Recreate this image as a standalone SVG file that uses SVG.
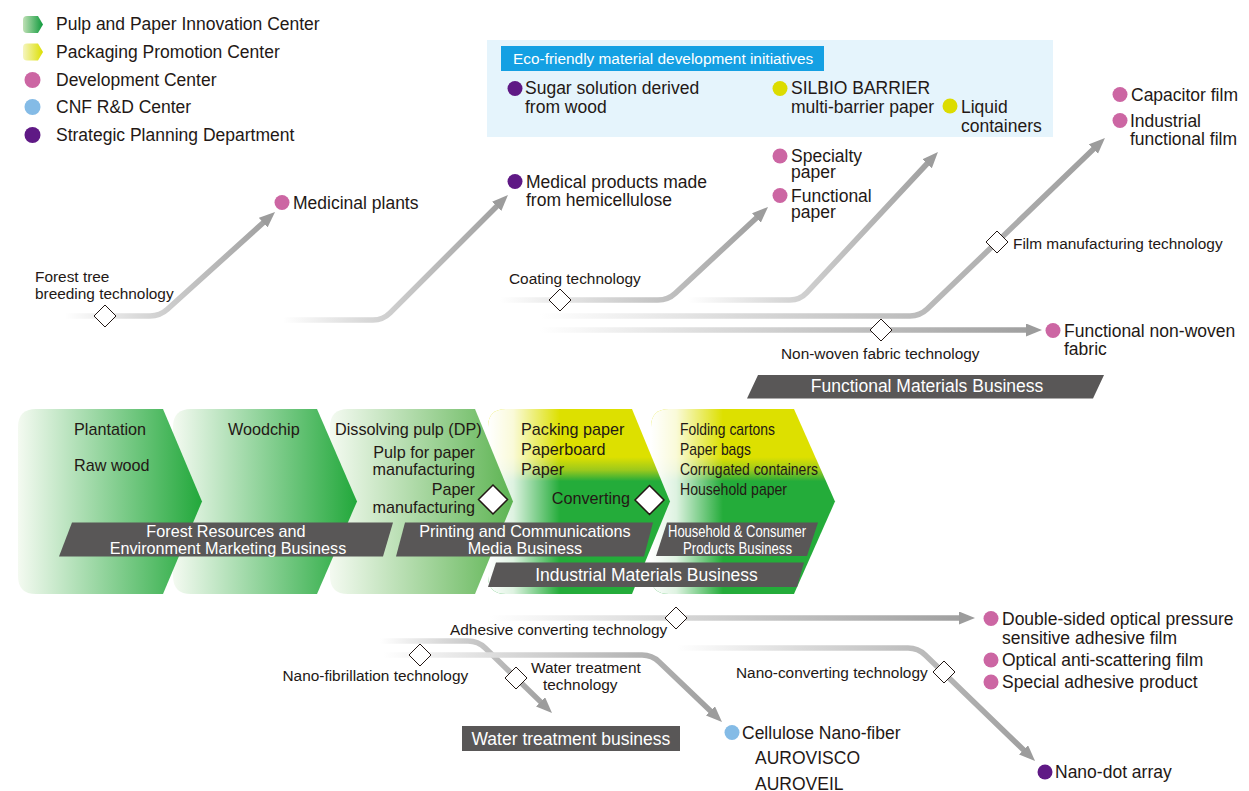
<svg xmlns="http://www.w3.org/2000/svg" width="1249" height="791" viewBox="0 0 1249 791">
<style>
.t{font-family:'Liberation Sans',Arial,Helvetica,sans-serif;fill:#231815}
.m{font-size:17.5px}
.c{font-size:16.2px}
.s{font-size:15.4px}
.w{fill:#ffffff}
.dia{fill:#ffffff;stroke:#231815;stroke-width:1}
.bdia{fill:#ffffff;stroke:#231815;stroke-width:1.5}
.ban{fill:#595757}
.ln{fill:none;stroke-width:5.5}
.pk{fill:#cc66a3}
.pu{fill:#5f1985}
.bl{fill:#84bbe6}
.ye{fill:#dcdc00}
</style>
<defs>
<linearGradient id="gLegG" x1="0" y1="0" x2="1" y2="0"><stop offset="0" stop-color="#bfe0b5"/><stop offset="1" stop-color="#0e9a3c"/></linearGradient>
<linearGradient id="gLegY" x1="0" y1="0" x2="1" y2="0"><stop offset="0" stop-color="#f5f5c0"/><stop offset="1" stop-color="#dcdf00"/></linearGradient>
<linearGradient id="gCh" x1="0" y1="0" x2="1" y2="0"><stop offset="0" stop-color="#f4faf1"/><stop offset="1" stop-color="#22a83b"/></linearGradient>
<linearGradient id="gCh3" x1="0" y1="0" x2="1" y2="0"><stop offset="0" stop-color="#f4faf1"/><stop offset="1" stop-color="#5db452"/></linearGradient>
<linearGradient id="gYG" x1="0" y1="0" x2="0" y2="1"><stop offset="0" stop-color="#dde000"/><stop offset="0.26" stop-color="#dde000"/><stop offset="0.33" stop-color="#9cc91c"/><stop offset="0.39" stop-color="#24ac3a"/><stop offset="1" stop-color="#24ac3a"/></linearGradient>
<linearGradient id="gW4" gradientUnits="userSpaceOnUse" x1="488" y1="0" x2="560" y2="0"><stop offset="0" stop-color="#fff" stop-opacity="1"/><stop offset="0.35" stop-color="#fff" stop-opacity="0.85"/><stop offset="1" stop-color="#fff" stop-opacity="0"/></linearGradient>
<linearGradient id="gW5" gradientUnits="userSpaceOnUse" x1="651" y1="0" x2="723" y2="0"><stop offset="0" stop-color="#fff" stop-opacity="1"/><stop offset="0.35" stop-color="#fff" stop-opacity="0.85"/><stop offset="1" stop-color="#fff" stop-opacity="0"/></linearGradient>
<linearGradient id="g1" gradientUnits="userSpaceOnUse" x1="65" y1="0" x2="275" y2="0"><stop offset="0" stop-color="#fff"/><stop offset="0.35" stop-color="#dadada"/><stop offset="1" stop-color="#9d9d9d"/></linearGradient>
<linearGradient id="g2" gradientUnits="userSpaceOnUse" x1="283" y1="0" x2="508" y2="0"><stop offset="0" stop-color="#fff"/><stop offset="0.35" stop-color="#dadada"/><stop offset="1" stop-color="#9d9d9d"/></linearGradient>
<linearGradient id="g3" gradientUnits="userSpaceOnUse" x1="500" y1="0" x2="768" y2="0"><stop offset="0" stop-color="#fff"/><stop offset="0.35" stop-color="#dadada"/><stop offset="1" stop-color="#9d9d9d"/></linearGradient>
<linearGradient id="g4" gradientUnits="userSpaceOnUse" x1="688" y1="0" x2="938" y2="0"><stop offset="0" stop-color="#fff"/><stop offset="0.35" stop-color="#dadada"/><stop offset="1" stop-color="#9d9d9d"/></linearGradient>
<linearGradient id="g5" gradientUnits="userSpaceOnUse" x1="540" y1="0" x2="1105" y2="0"><stop offset="0" stop-color="#fff"/><stop offset="0.35" stop-color="#dadada"/><stop offset="1" stop-color="#9d9d9d"/></linearGradient>
<linearGradient id="g6" gradientUnits="userSpaceOnUse" x1="540" y1="0" x2="1042" y2="0"><stop offset="0" stop-color="#fff"/><stop offset="0.35" stop-color="#dadada"/><stop offset="1" stop-color="#9d9d9d"/></linearGradient>
<linearGradient id="g7" gradientUnits="userSpaceOnUse" x1="490" y1="0" x2="975" y2="0"><stop offset="0" stop-color="#fff"/><stop offset="0.35" stop-color="#dadada"/><stop offset="1" stop-color="#9d9d9d"/></linearGradient>
<linearGradient id="g8" gradientUnits="userSpaceOnUse" x1="380" y1="0" x2="552" y2="0"><stop offset="0" stop-color="#fff"/><stop offset="0.35" stop-color="#dadada"/><stop offset="1" stop-color="#9d9d9d"/></linearGradient>
<linearGradient id="g9" gradientUnits="userSpaceOnUse" x1="383" y1="0" x2="722" y2="0"><stop offset="0" stop-color="#fff"/><stop offset="0.35" stop-color="#dadada"/><stop offset="1" stop-color="#9d9d9d"/></linearGradient>
<linearGradient id="g10" gradientUnits="userSpaceOnUse" x1="677" y1="0" x2="1035" y2="0"><stop offset="0" stop-color="#fff"/><stop offset="0.35" stop-color="#dadada"/><stop offset="1" stop-color="#9d9d9d"/></linearGradient>
<marker id="ah" markerUnits="userSpaceOnUse" markerWidth="17" markerHeight="14" refX="3" refY="6.5" orient="auto"><path d="M0,0 L16,6.5 L0,13 Z" fill="#9c9c9c"/></marker>
</defs>

<g id="legend">
<path d="M27,16 H38 L43,24.5 L38,33 H27 Q23,33 23,29 V20 Q23,16 27,16 Z" fill="url(#gLegG)"/>
<text class="t m" x="56" y="30">Pulp and Paper Innovation Center</text>
<path d="M27,43.5 H38 L43,52 L38,60.5 H27 Q23,60.5 23,56.5 V47.5 Q23,43.5 27,43.5 Z" fill="url(#gLegY)"/>
<text class="t m" x="56" y="57.5">Packaging Promotion Center</text>
<circle class="pk" cx="32.5" cy="80" r="8"/>
<text class="t m" x="56" y="85.5">Development Center</text>
<circle class="bl" cx="32.5" cy="107" r="8"/>
<text class="t m" x="56" y="113">CNF R&amp;D Center</text>
<circle class="pu" cx="32.5" cy="135" r="8"/>
<text class="t m" x="56" y="140.5">Strategic Planning Department</text>
</g>

<g id="eco-box">
<rect x="487" y="40" width="566" height="97" fill="#e5f4fc"/>
<rect x="501" y="46" width="323" height="25" fill="#14a0e3"/>
<text class="t s w" x="513" y="63.5">Eco-friendly material development initiatives</text>
</g>

<g id="chevrons">
<g id="chev5">
<path d="M669,409 H794 L835,501.5 L794,594 H669 Q651,594 651,576 V427 Q651,409 669,409 Z" fill="url(#gYG)"/>
<path d="M669,409 H794 L835,501.5 L794,594 H669 Q651,594 651,576 V427 Q651,409 669,409 Z" fill="url(#gW5)"/>
</g>
<g id="chev4">
<path d="M506,409 H632 L670,501.5 L632,594 H506 Q488,594 488,576 V427 Q488,409 506,409 Z" fill="url(#gYG)"/>
<path d="M506,409 H632 L670,501.5 L632,594 H506 Q488,594 488,576 V427 Q488,409 506,409 Z" fill="url(#gW4)"/>
</g>
<g id="chev3"><path d="M348,409 H475 L513,501.5 L475,594 H348 Q330,594 330,576 V427 Q330,409 348,409 Z" fill="url(#gCh3)"/></g>
<g id="chev2"><path d="M191,409 H317 L357,501.5 L317,594 H191 Q173,594 173,576 V427 Q173,409 191,409 Z" fill="url(#gCh)"/></g>
<g id="chev1"><path d="M36,409 H163 L202,501.5 L163,594 H36 Q18,594 18,576 V427 Q18,409 36,409 Z" fill="url(#gCh)"/></g>
</g>

<g id="chevron-texts">
<text class="t c" x="74" y="435">Plantation</text>
<text class="t c" x="74" y="471">Raw wood</text>
<text class="t c" x="228" y="435">Woodchip</text>
<text class="t c" x="335" y="435">Dissolving pulp (DP)</text>
<text class="t c" x="475" y="457.5" text-anchor="end">Pulp for paper</text>
<text class="t c" x="475" y="475" text-anchor="end">manufacturing</text>
<text class="t c" x="475" y="495" text-anchor="end">Paper</text>
<text class="t c" x="475" y="513" text-anchor="end">manufacturing</text>
<polygon class="bdia" points="493,485 507.5,499.5 493,514 478.5,499.5"/>
<text class="t c" x="521" y="435">Packing paper</text>
<text class="t c" x="521" y="455">Paperboard</text>
<text class="t c" x="521" y="475">Paper</text>
<text class="t c" x="630" y="503.5" text-anchor="end">Converting</text>
<polygon class="bdia" points="649.5,485.5 664,500 649.5,514.5 635,500"/>
<text class="t c" x="680" y="435" textLength="95" lengthAdjust="spacingAndGlyphs">Folding cartons</text>
<text class="t c" x="680" y="455" textLength="71" lengthAdjust="spacingAndGlyphs">Paper bags</text>
<text class="t c" x="680" y="475" textLength="138" lengthAdjust="spacingAndGlyphs">Corrugated containers</text>
<text class="t c" x="680" y="495" textLength="107" lengthAdjust="spacingAndGlyphs">Household paper</text>
</g>

<g id="banners">
<g id="ban-forest">
<polygon class="ban" points="72,522.5 393,522.5 383,556.5 59,556.5"/>
<text class="t c w" x="226" y="537" text-anchor="middle">Forest Resources and</text>
<text class="t c w" x="228" y="553.5" text-anchor="middle">Environment Marketing Business</text>
</g>
<g id="ban-printing">
<polygon class="ban" points="405,522.5 653,522.5 644,556.5 396,556.5"/>
<text class="t c w" x="525" y="536.5" text-anchor="middle">Printing and Communications</text>
<text class="t c w" x="525" y="553.5" text-anchor="middle">Media Business</text>
</g>
<g id="ban-household">
<polygon class="ban" points="667,522.5 818,522.5 807,556 656,556"/>
<text class="t c w" x="737" y="537" text-anchor="middle" textLength="138" lengthAdjust="spacingAndGlyphs">Household &amp; Consumer</text>
<text class="t c w" x="737.5" y="553.5" text-anchor="middle" textLength="109" lengthAdjust="spacingAndGlyphs">Products Business</text>
</g>
<g id="ban-industrial">
<polygon class="ban" points="496,562.5 804,562.5 797,587 488,587"/>
<text class="t m w" x="646.5" y="580.5" text-anchor="middle">Industrial Materials Business</text>
</g>
<g id="ban-functional">
<polygon class="ban" points="758,375 1104,375 1093,398.5 747,398.5"/>
<text class="t m w" x="927" y="392" text-anchor="middle">Functional Materials Business</text>
</g>
<g id="ban-water">
<rect class="ban" x="462" y="726" width="218" height="25"/>
<text class="t m w" x="471.5" y="745">Water treatment business</text>
</g>
</g>

<g id="connectors">
<path class="ln" stroke="url(#g1)" marker-end="url(#ah)" d="M65,316 H150 Q160,316 167.4,309.3 L265.4,220.7"/>
<path class="ln" stroke="url(#g2)" marker-end="url(#ah)" d="M283,320 H373 Q383,320 390.1,312.9 L498.8,204.2"/>
<path class="ln" stroke="url(#g3)" marker-end="url(#ah)" d="M500,300 H658 Q668,300 675.3,293.2 L758.5,215.9"/>
<path class="ln" stroke="url(#g4)" marker-end="url(#ah)" d="M688,300 H790 Q800,300 806.8,292.7 L929.1,161.5"/>
<path class="ln" stroke="url(#g5)" marker-end="url(#ah)" d="M540,316 H910 Q920,316 927.2,309.1 L1095.6,147"/>
<path class="ln" stroke="url(#g6)" marker-end="url(#ah)" d="M540,330 H1029"/>
<path class="ln" stroke="url(#g7)" marker-end="url(#ah)" d="M490,618 H962"/>
<path class="ln" stroke="url(#g8)" marker-end="url(#ah)" d="M380,641 H468 Q478,641 485.2,648 L542.7,703.9"/>
<path class="ln" stroke="url(#g9)" marker-end="url(#ah)" d="M383,655 H642 Q652,655 659.2,661.9 L712.6,713"/>
<path class="ln" stroke="url(#g10)" marker-end="url(#ah)" d="M677,648 H908 Q918,648 925.2,655 L1025.7,752"/>
</g>

<g id="tech-nodes">
<g id="tech-forest"><polygon class="dia" points="105,305 116,316 105,327 94,316"/><text class="t s" x="35" y="282">Forest tree</text><text class="t s" x="35" y="298.5">breeding technology</text></g>
<g id="tech-coating"><polygon class="dia" points="560,289 571,300 560,311 549,300"/><text class="t s" x="509" y="284">Coating technology</text></g>
<g id="tech-film"><polygon class="dia" points="997,231 1008,242 997,253 986,242"/><text class="t s" x="1013" y="249">Film manufacturing technology</text></g>
<g id="tech-nonwoven"><polygon class="dia" points="881,319 892,330 881,341 870,330"/><text class="t s" x="781" y="359">Non-woven fabric technology</text></g>
<g id="tech-adhesive"><polygon class="dia" points="676,607 687,618 676,629 665,618"/><text class="t s" x="450" y="634.5">Adhesive converting technology</text></g>
<g id="tech-nanofib"><polygon class="dia" points="420,644 431,655 420,666 409,655"/><text class="t s" x="282.5" y="680.5">Nano-fibrillation technology</text></g>
<g id="tech-water"><polygon class="dia" points="516,667 527,678 516,689 505,678"/><text class="t s" x="531" y="673">Water treatment</text><text class="t s" x="543" y="689.5">technology</text></g>
<g id="tech-nanoconv"><polygon class="dia" points="944,661 955,672 944,683 933,672"/><text class="t s" x="736" y="678">Nano-converting technology</text></g>
</g>

<g id="products">
<g id="p-medicinal"><circle class="pk" cx="282" cy="202.5" r="7.5"/><text class="t m" x="293" y="208.5">Medicinal plants</text></g>
<g id="p-medical"><circle class="pu" cx="515" cy="181.5" r="7.5"/><text class="t m" x="526" y="187.5">Medical products made</text><text class="t m" x="526" y="206">from hemicellulose</text></g>
<g id="p-sugar"><circle class="pu" cx="515" cy="88.5" r="7.5"/><text class="t m" x="525" y="94">Sugar solution derived</text><text class="t m" x="525" y="112.5">from wood</text></g>
<g id="p-silbio"><circle class="ye" cx="780" cy="88.5" r="7.5"/><text class="t m" x="791" y="94">SILBIO BARRIER</text><text class="t m" x="791" y="112.5">multi-barrier paper</text></g>
<g id="p-liquid"><circle class="ye" cx="950" cy="106" r="7.5"/><text class="t m" x="961" y="112.5">Liquid</text><text class="t m" x="961" y="131.5">containers</text></g>
<g id="p-specialty"><circle class="pk" cx="780" cy="156" r="7.5"/><text class="t m" x="791" y="161.5">Specialty</text><text class="t m" x="791" y="178">paper</text></g>
<g id="p-functional"><circle class="pk" cx="780" cy="195.5" r="7.5"/><text class="t m" x="791" y="201.5">Functional</text><text class="t m" x="791" y="218">paper</text></g>
<g id="p-capacitor"><circle class="pk" cx="1120" cy="94.5" r="7.5"/><text class="t m" x="1131" y="100.5">Capacitor film</text></g>
<g id="p-industrial"><circle class="pk" cx="1120" cy="120.5" r="7.5"/><text class="t m" x="1130" y="126.5">Industrial</text><text class="t m" x="1130" y="145">functional film</text></g>
<g id="p-nonwoven"><circle class="pk" cx="1053" cy="330.5" r="7.5"/><text class="t m" x="1064" y="336.5">Functional non-woven</text><text class="t m" x="1064" y="355">fabric</text></g>
<g id="p-doublesided"><circle class="pk" cx="991" cy="618.5" r="7.5"/><text class="t m" x="1002" y="625">Double-sided optical pressure</text><text class="t m" x="1002" y="644">sensitive adhesive film</text></g>
<g id="p-antiscatter"><circle class="pk" cx="991" cy="660" r="7.5"/><text class="t m" x="1002" y="666">Optical anti-scattering film</text></g>
<g id="p-special"><circle class="pk" cx="991" cy="682" r="7.5"/><text class="t m" x="1002" y="688">Special adhesive product</text></g>
<g id="p-cnf"><circle class="bl" cx="732" cy="732.5" r="7.5"/><text class="t m" x="742" y="739">Cellulose Nano-fiber</text><text class="t m" x="755" y="764">AUROVISCO</text><text class="t m" x="755" y="790">AUROVEIL</text></g>
<g id="p-nanodot"><circle class="pu" cx="1045" cy="772" r="7.5"/><text class="t m" x="1055" y="778">Nano-dot array</text></g>
</g>
</svg>
